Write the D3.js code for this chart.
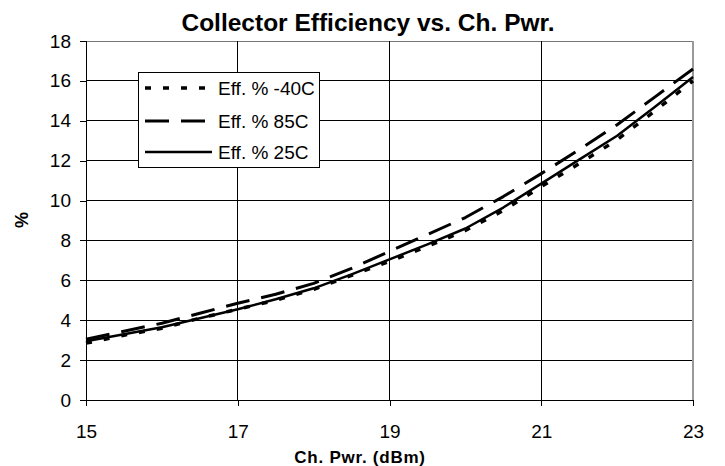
<!DOCTYPE html>
<html><head><meta charset="utf-8">
<script src="https://cdn.jsdelivr.net/npm/d3@7"></script>
<style>body{margin:0;background:#fff;}svg{display:block;font-family:"Liberation Sans",Arial,sans-serif;}</style>
</head><body>
<script>
const pwr = [15,15.5,16,16.5,17,17.5,18,18.5,19,19.5,20,20.5,21,21.5,22,22.5,23];
const effM40 = [2.85,3.25,3.6,4.1,4.55,5.0,5.55,6.25,6.95,7.7,8.5,9.5,10.7,11.85,13.05,14.5,16.0];
const eff85 = [3.05,3.45,3.85,4.35,4.85,5.3,5.85,6.6,7.45,8.3,9.15,10.2,11.35,12.55,13.8,15.2,16.6];
const eff25 = [2.95,3.3,3.65,4.1,4.55,5.05,5.6,6.3,7.05,7.8,8.6,9.65,10.85,12.05,13.25,14.7,16.2];
const xTicks = [15,17,19,21,23];
const yTicks = [0,2,4,6,8,10,12,14,16,18];
const seriesNames = ["Eff. % -40C","Eff. % 85C","Eff. % 25C"];
const title = "Collector Efficiency vs. Ch. Pwr.";
const xTitle = "Ch. Pwr. (dBm)";
const yTitle = "%";

const W=725,H=466;
const m={l:86,r:32,t:41,b:66};
const svg=d3.select("body").append("svg").attr("width",W).attr("height",H);
const x=d3.scaleLinear().domain([15,23]).range([m.l,W-m.r]);
const y=d3.scaleLinear().domain([0,18]).range([H-m.b,m.t]);

// gridlines
svg.append("g").selectAll("line").data(yTicks.filter(d=>d>0)).join("line")
  .attr("x1",x(15)).attr("x2",x(23)).attr("y1",d=>y(d)).attr("y2",d=>y(d))
  .attr("stroke",d=>d===18?"#777":"#000").attr("stroke-width",1).attr("shape-rendering","crispEdges");
svg.append("g").selectAll("line").data(xTicks.filter(d=>d>15)).join("line")
  .attr("y1",y(0)).attr("y2",y(18)).attr("x1",d=>x(d)).attr("x2",d=>x(d))
  .attr("stroke",d=>d===23?"#999":"#000").attr("stroke-width",d=>d===23?2:1).attr("shape-rendering","crispEdges");

// axes
const xa=svg.append("g").attr("transform",`translate(0,${y(0)})`)
  .call(d3.axisBottom(x).tickValues(xTicks).tickSize(6).tickPadding(19).tickFormat(d3.format("d")));
const ya=svg.append("g").attr("transform",`translate(${x(15)},0)`)
  .call(d3.axisLeft(y).tickValues(yTicks).tickSize(6).tickPadding(9).tickFormat(d3.format("d")));
[xa,ya].forEach(a=>{a.select(".domain").attr("stroke","#000").attr("shape-rendering","crispEdges");
  a.selectAll(".tick line").attr("stroke","#000").attr("shape-rendering","crispEdges");
  a.selectAll("text").attr("font-size",19).attr("fill","#000").attr("font-family","Liberation Sans, Arial, sans-serif");});

// series
const line=d3.line().x((d,i)=>x(pwr[i])).y(d=>y(d));
const styles=[
  {data:effM40,dash:"6,12",w:3.5},
  {data:eff85,dash:"24,12",w:3},
  {data:eff25,dash:null,w:2.5}
];
styles.forEach(s=>{
  svg.append("path").datum(s.data).attr("d",line).attr("fill","none").attr("stroke","#000")
    .attr("stroke-width",s.w).attr("stroke-dasharray",s.dash).attr("stroke-linejoin","round");
});

// legend
const lg=svg.append("g");
lg.append("rect").attr("x",138.5).attr("y",72.5).attr("width",181).attr("height",95)
  .attr("fill","#fff").attr("stroke","#000").attr("stroke-width",1);
const rowsY=[88,121,152];
styles.forEach((s,i)=>{
  lg.append("line").attr("x1",145).attr("x2",212).attr("y1",rowsY[i]).attr("y2",rowsY[i])
    .attr("stroke","#000").attr("stroke-width",s.w).attr("stroke-dasharray",s.dash);
  lg.append("text").attr("x",218).attr("y",rowsY[i]+7).attr("font-size",19).text(seriesNames[i]);
});

// titles
svg.append("text").attr("x",368).attr("y",31).attr("text-anchor","middle")
  .attr("font-size",24.5).attr("font-weight","bold").text(title);
svg.append("text").attr("x",360).attr("y",463).attr("text-anchor","middle")
  .attr("font-size",17).attr("font-weight","bold").attr("letter-spacing",0.75).text(xTitle);
svg.append("text").attr("transform","translate(28,220) rotate(-90)").attr("text-anchor","middle")
  .attr("font-size",18).attr("font-weight","bold").text(yTitle);
</script>
</body></html>
